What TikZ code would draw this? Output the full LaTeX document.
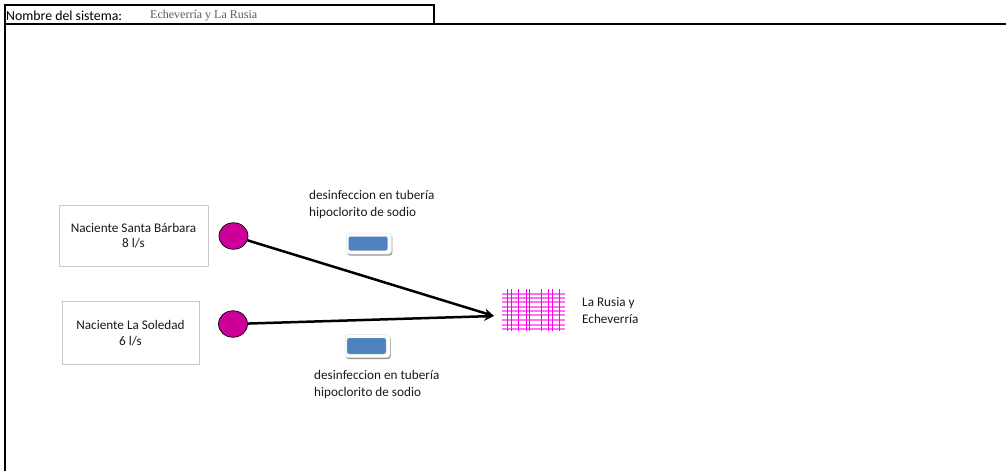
\documentclass[tikz,border=0pt]{standalone}
\usepackage{fontspec}
\setmainfont{Carlito}
\newfontfamily\serifname{Liberation Serif}
\usetikzlibrary{arrows.meta,shadows,shapes.geometric}
\definecolor{mag}{HTML}{CC0099}
\definecolor{grid}{HTML}{FF00E6}
\definecolor{blu}{HTML}{4F81BD}
\definecolor{boxline}{HTML}{C8C8C8}
\tikzset{
  frameline/.style={draw=black,line width=1.6pt},
  srcbox/.style={draw=boxline,line width=0.9pt,fill=white,align=center,font=\fontsize{13.2}{15.5}\selectfont,text=black!90,inner sep=0pt},
  spring/.style={ellipse,draw=black,line width=0.7pt,fill=mag,minimum width=29pt,minimum height=26.5pt,inner sep=0pt},
  pipe/.style={-{Stealth[length=10pt,width=9pt]},line width=2.5pt,black},
  lbl/.style={font=\fontsize{13.2}{17}\selectfont,align=left,anchor=west,inner sep=0pt,text=black!90},
  valve/.style={draw=blu!50!white,line width=.4pt,rounded corners=2pt,fill=blu,minimum width=39pt,minimum height=14pt,inner sep=0pt},
  valveback/.style={rounded corners=3pt,fill=white,draw=black!12,line width=.5pt,minimum width=45pt,minimum height=21pt,inner sep=0pt,
    drop shadow={shadow xshift=.8pt,shadow yshift=-1.6pt,fill=black!55,opacity=.75}}
  ,vline/.style={grid,line width=1pt},
  hline/.style={grid,line width=1.4pt,opacity=.55}
}
\begin{document}
\begin{tikzpicture}[x=1pt,y=-1pt]
\useasboundingbox (0,0) rectangle (1006,471);
% frame
\draw[frameline] (5,471) -- (5,5) -- (434,5) -- (434,24);
\draw[frameline] (5,24) -- (1006,24);
\node[anchor=west,inner sep=0pt,font=\fontsize{13.8}{15}\selectfont] (sysname) at (6,16) {Nombre del sistema:};
\node[anchor=west,inner sep=0pt,font=\serifname\fontsize{12}{13}\selectfont,text=black!65] (sysval) at (150,15.5) {Echeverría y La Rusia};
% boxes
\node[srcbox,minimum width=149pt,minimum height=61pt] (b1) at (133.5,235.5) {Naciente Santa Bárbara\\8 l/s};
\node[srcbox,minimum width=137pt,minimum height=63pt] (b2) at (130.5,333) {Naciente La Soledad\\6 l/s};
% springs
\node[spring] (s1) at (233.5,236) {};
\node[spring] (s2) at (233,324) {};
% grid
\foreach \y in {294,298,302,307,311,315,320,325,329}
  \draw[hline] (502,\y) -- (565,\y);
\foreach \x in {507,511,518,526,529,541,548,552,559}
  \draw[vline] (\x,289) -- (\x,331);
\coordinate (net) at (494,316);
\draw[pipe] (s1) -- (net);
\draw[pipe] (s2) -- (net);
% valves
\node[valveback] (v1b) at (369,243.5) {};
\node[valve] (v1) at (368,243.5) {};
\node[valveback,minimum height=23pt] (v2b) at (367.5,346) {};
\node[valve,minimum height=16pt] (v2) at (366.5,346) {};
% labels
\node[lbl] (t1) at (309,204.5) {desinfeccion en tubería\\hipoclorito de sodio};
\node[lbl] (t2) at (314,384.5) {desinfeccion en tubería\\hipoclorito de sodio};
\node[lbl] (t3) at (582,311) {La Rusia y\\Echeverría};
\end{tikzpicture}
\end{document}
